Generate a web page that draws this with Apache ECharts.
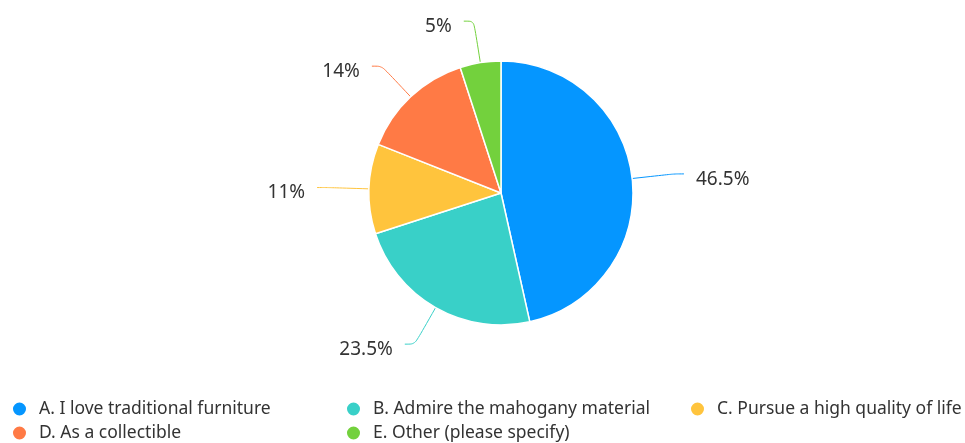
<!DOCTYPE html>
<html><head><meta charset="utf-8">
<script src="https://cdn.jsdelivr.net/npm/echarts@6/dist/echarts.min.js"></script>
<style>html,body{margin:0;padding:0;background:#fff}#c{width:965px;height:443px}</style>
</head><body><div id="c"></div>
<script>
const categories = ["A. I love traditional furniture","B. Admire the mahogany material","C. Pursue a high quality of life","D. As a collectible","E. Other (please specify)"];
const values = [46.5, 23.5, 11, 14, 5];
const colors = ["#0596FF","#39D0C8","#FFC43D","#FF7A45","#73D13D"];
const legendPos = [[11,400],[345,400],[689,400],[11,424],[345,424]];
const chart = echarts.init(document.getElementById('c'));
chart.setOption({
  color: colors,
  legend: categories.map((n,i)=>({
    left: legendPos[i][0], top: legendPos[i][1], padding:0, icon:'circle', itemWidth:15, itemHeight:15,
    data:[n], textStyle:{fontSize:17.5, color:'#333', fontFamily:'Noto Sans', padding:[0,0,0,7]}
  })),
  series: [{
    type:'pie', center:[501,193], radius:132, startAngle:90, clockwise:true,
    data: categories.map((n,i)=>({name:n, value:values[i]})),
    itemStyle:{borderColor:'#fff', borderWidth:1.5},
    label:{formatter: p => '{s|}\n{v|' + p.value + '%}', distanceToLabelLine:12,
      rich:{s:{lineHeight:11, fontSize:1}, v:{fontSize:19, color:'#333', fontFamily:'Noto Sans', lineHeight:24}}},
    labelLine:{length:42, length2:10, smooth:true, lineStyle:{width:1}}
  }]
});
</script></body></html>
